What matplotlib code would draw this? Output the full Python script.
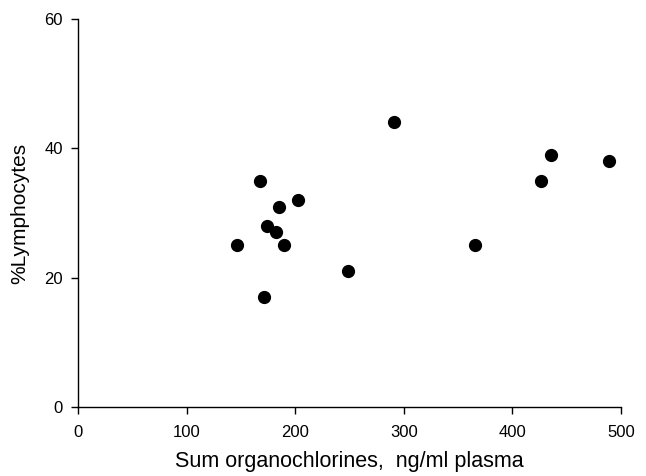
import matplotlib
matplotlib.use('Agg')
import matplotlib.pyplot as plt

# Données
organochlorines = [146, 168, 174, 182, 185, 190, 203, 171, 249, 291, 366, 426, 436, 489]
lymphocytes = [25, 35, 28, 27, 31, 25, 32, 17, 21, 44, 25, 35, 39, 38]

x_ticks = [0, 100, 200, 300, 400, 500]
y_ticks = [0, 20, 40, 60]

plt.rcParams['font.family'] = ['Liberation Sans', 'DejaVu Sans']

fig = plt.figure(figsize=(6.46, 4.76), dpi=100)
ax = fig.add_axes([0.1207, 0.145, 0.8406, 0.815])

ax.plot(organochlorines, lymphocytes, 'o', color='black', markersize=8.5, clip_on=False)

ax.set_xlim(0, 500)
ax.set_ylim(0, 60)
ax.set_xticks(x_ticks)
ax.set_yticks(y_ticks)
ax.tick_params(direction='out', length=5, width=1, labelsize=12, pad=6)
ax.tick_params(axis='x', pad=8)

ax.spines['top'].set_visible(False)
ax.spines['right'].set_visible(False)
for s in ['left', 'bottom']:
    ax.spines[s].set_linewidth(1)

ax.set_xlabel('Sum organochlorines,  ng/ml plasma', fontsize=15.5, labelpad=8)
ax.set_ylabel('%Lymphocytes', fontsize=15, labelpad=11)

fig.savefig('out.png', dpi=100)
